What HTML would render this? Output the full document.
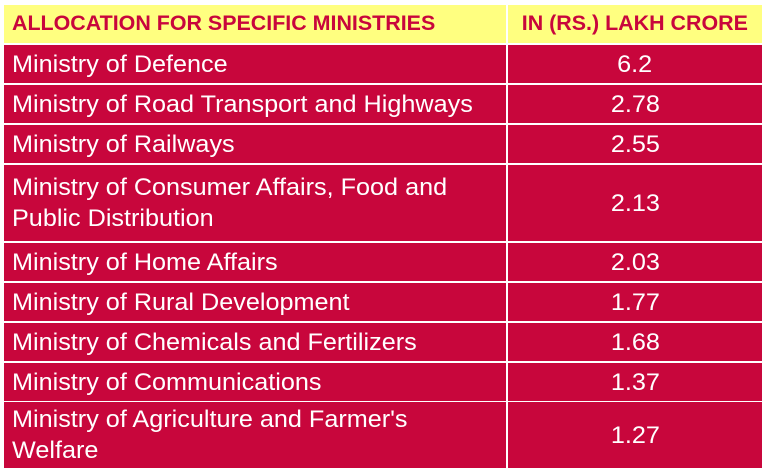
<!DOCTYPE html><html><head><style>
body{margin:0;width:764px;height:468px;background:#fff;position:relative;overflow:hidden;font-family:"Liberation Sans",sans-serif}
.c{position:absolute;background:#c8063c;color:#fff;font-size:24px;box-sizing:border-box;display:flex;align-items:center;line-height:31px}
.c span{display:inline-block;transform:scaleX(1.05);transform-origin:left}
.r span{transform-origin:center}
.l{left:4px;width:502px;padding-left:8px}
.r{left:508px;width:254px;justify-content:center}
.h{position:absolute;top:5px;height:38px;background:#ffff80;color:#c8063c;font-weight:bold;font-size:21px;display:flex;align-items:center;box-sizing:border-box}
</style></head><body>
<div class="h" style="left:4px;width:502px;padding-left:8px"><span style="display:inline-block;transform:scaleX(1.02);transform-origin:left">ALLOCATION FOR SPECIFIC MINISTRIES</span></div>
<div class="h" style="left:508px;width:254px;justify-content:center"><span style="display:inline-block;transform:scaleX(1.02)">IN (RS.) LAKH CRORE</span></div>
<div class="c l" style="top:45px;height:38px"><span>Ministry of Defence</span></div><div class="c r" style="top:45px;height:38px"><span>6.2</span></div>
<div class="c l" style="top:85px;height:38px"><span>Ministry of Road Transport and Highways</span></div><div class="c r" style="top:85px;height:38px"><span>2.78</span></div>
<div class="c l" style="top:125px;height:38px"><span>Ministry of Railways</span></div><div class="c r" style="top:125px;height:38px"><span>2.55</span></div>
<div class="c l" style="top:165px;height:76px"><span>Ministry of Consumer Affairs, Food and<br>Public Distribution</span></div><div class="c r" style="top:165px;height:76px"><span>2.13</span></div>
<div class="c l" style="top:243px;height:38px"><span>Ministry of Home Affairs</span></div><div class="c r" style="top:243px;height:38px"><span>2.03</span></div>
<div class="c l" style="top:283px;height:38px"><span>Ministry of Rural Development</span></div><div class="c r" style="top:283px;height:38px"><span>1.77</span></div>
<div class="c l" style="top:323px;height:38px"><span>Ministry of Chemicals and Fertilizers</span></div><div class="c r" style="top:323px;height:38px"><span>1.68</span></div>
<div class="c l" style="top:363px;height:38px"><span>Ministry of Communications</span></div><div class="c r" style="top:363px;height:38px"><span>1.37</span></div>
<div class="c l" style="top:402px;height:66px"><span>Ministry of Agriculture and Farmer's<br>Welfare</span></div><div class="c r" style="top:402px;height:66px"><span>1.27</span></div>
</body></html>
